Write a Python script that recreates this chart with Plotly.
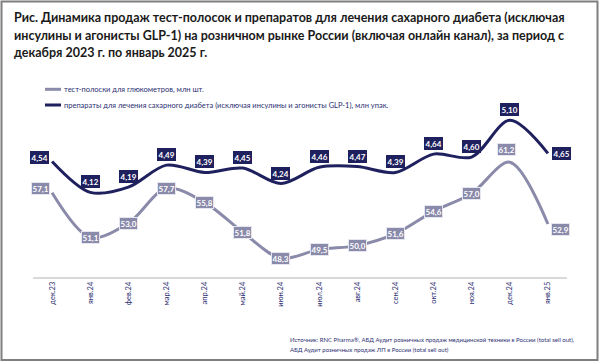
import plotly.graph_objects as go

# ---- data ----
months = ["дек.23", "янв.24", "фев.24", "мар.24", "апр.24", "май.24", "июн.24",
          "июл.24", "авг.24", "сен.24", "окт.24", "ноя.24", "дек.24", "янв.25"]
strips = [57.1, 51.1, 53.0, 57.7, 55.8, 51.8, 48.3, 49.5, 50.0, 51.6, 54.6, 57.0, 61.2, 52.9]
drugs = [4.54, 4.12, 4.19, 4.49, 4.39, 4.45, 4.24, 4.46, 4.47, 4.39, 4.64, 4.60, 5.10, 4.65]
strips_name = "тест-полоски для глюкометров, млн шт."
drugs_name = "препараты для лечения сахарного диабета (исключая инсулины и агонисты GLP-1), млн упак."
title_lines = [
    "Рис. Динамика продаж тест-полосок и препаратов для лечения сахарного диабета (исключая",
    "инсулины и агонисты GLP-1) на розничном рынке России (включая онлайн канал), за период с",
    "декабря 2023 г. по январь 2025 г.",
]
source_lines = [
    "Источник: RNC Pharma®, АБД Аудит розничных продаж медицинской техники в России (total sell out),",
    "АБД Аудит розничных продаж ЛП в России (total sell out)",
]

# ---- style ----
W, H = 600, 362
L, R, T, B = 33, 567, 95, 277  # plot area in pixels
DARK = "#1f205e"
LIGHT = "#8a8aaa"
TXT = "#2c2f72"
FONT = "Lato, 'Noto Sans', sans-serif"


def px(xp):
    return (xp - L) / (R - L)


def py(yp):
    return (B - yp) / (B - T)


fig = go.Figure()
fig.add_trace(go.Scatter(x=list(range(len(months))), y=strips, mode="lines",
                         line=dict(color=LIGHT, width=3, shape="spline", smoothing=0.9),
                         name=strips_name, showlegend=False, hoverinfo="skip"))
fig.add_trace(go.Scatter(x=list(range(len(months))), y=drugs, mode="lines", yaxis="y2",
                         line=dict(color=DARK, width=3, shape="spline", smoothing=0.9),
                         name=drugs_name, showlegend=False, hoverinfo="skip"))

ann = []
n = len(months)
# data labels: light series
for i, v in enumerate(strips):
    xs, ys = 0, 0
    if i == 0:
        xs, ys = -12, 4
    elif i == n - 1:
        xs, ys = 13, -5
    elif i == 12:
        xs, ys = -3, 13
    ann.append(dict(x=i, y=v, xref="x", yref="y", text=f"{v:.1f}".replace(".", ","),
                    showarrow=False, xshift=xs, yshift=ys,
                    font=dict(family=FONT, size=8, color="white", weight="bold"),
                    bgcolor=LIGHT, bordercolor="#e6e6ee", borderwidth=1, borderpad=0.5))
# data labels: dark series
for i, v in enumerate(drugs):
    xs, ys = 0, 10.5
    if i == 0:
        xs, ys = -13, 4
    elif i == n - 1:
        xs, ys = 13.5, 0
    ann.append(dict(x=i, y=v, xref="x", yref="y2", text=f"{v:.2f}".replace(".", ","),
                    showarrow=False, xshift=xs, yshift=ys,
                    font=dict(family=FONT, size=8, color="white", weight="bold"),
                    bgcolor=DARK, bordercolor=DARK, borderwidth=1, borderpad=0.5))

# title
for k, line in enumerate(title_lines):
    ann.append(dict(x=px(12), y=py(17 + 18 * k), xref="paper", yref="paper", text=line,
                    showarrow=False, xanchor="left", yanchor="middle",
                    font=dict(family=FONT, size=12.5, color="#1a1a1a", weight="bold")))
# legend
for k, (name, col) in enumerate([(strips_name, LIGHT), (drugs_name, DARK)]):
    yl = 89.3 + 15.7 * k
    ann.append(dict(x=px(62), y=py(yl), xref="paper", yref="paper", text=name,
                    showarrow=False, xanchor="left", yanchor="middle",
                    font=dict(family=FONT, size=7.5, color=TXT)))
# source
for k, line in enumerate(source_lines):
    ann.append(dict(x=px(288), y=py(339 + 10 * k), xref="paper", yref="paper", text=line,
                    showarrow=False, xanchor="left", yanchor="middle",
                    font=dict(family=FONT, size=6, color=TXT)))

shapes = []
for k, col in enumerate([LIGHT, DARK]):
    yl = 89.3 + 15.7 * k
    shapes.append(dict(type="line", xref="paper", yref="paper", x0=px(45), x1=px(61),
                       y0=py(yl), y1=py(yl), line=dict(color=col, width=3)))
# outer frame
shapes.append(dict(type="rect", xref="paper", yref="paper", x0=px(1.5), x1=px(597.5),
                   y0=py(1.5), y1=py(360), line=dict(color="#7f7f7f", width=2), layer="above"))

fig.update_layout(
    width=W, height=H,
    margin=dict(l=L, r=W - R, t=T, b=H - B, pad=0),
    paper_bgcolor="white", plot_bgcolor="white",
    xaxis=dict(range=[-0.5, n - 0.5], tickmode="array", tickvals=list(range(n)), ticktext=months,
               tickangle=-90, showgrid=False, zeroline=False, showline=True,
               linecolor="#d9d9d9", linewidth=1.5, ticks="",
               tickfont=dict(family=FONT, size=7.5, color=TXT)),
    yaxis=dict(range=[45.79, 70.22], visible=False, fixedrange=True),
    yaxis2=dict(range=[2.968, 5.444], visible=False, overlaying="y", side="right"),
    annotations=ann, shapes=shapes, showlegend=False,
)

fig.write_html("out.html", config={"displayModeBar": False},
               post_script="document.body.style.margin='0';document.body.style.padding='0';")
